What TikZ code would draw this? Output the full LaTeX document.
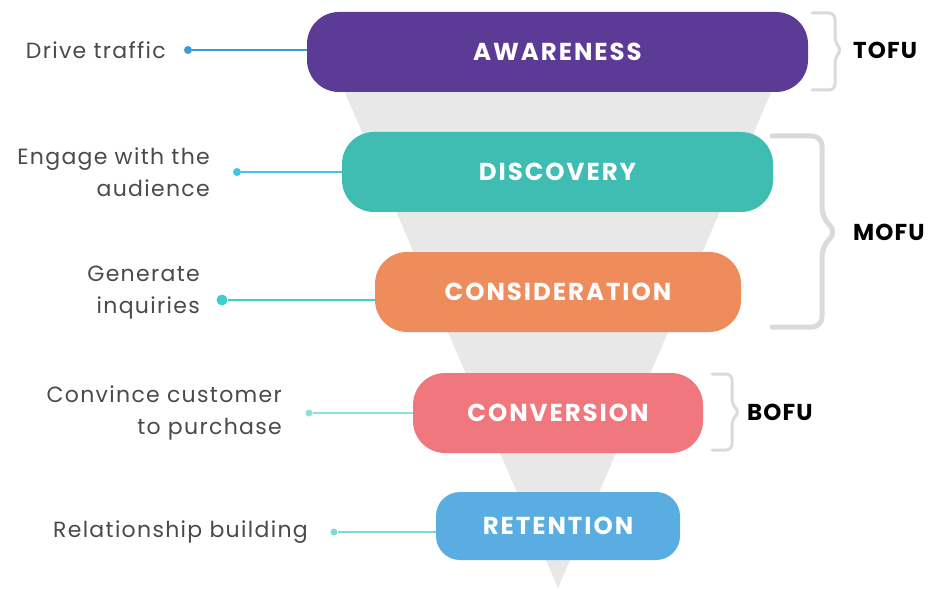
\documentclass[tikz,border=0pt]{standalone}
\usepackage{fontspec}
\setmainfont{Poppins}
\newfontfamily\pillfont{Poppins}[LetterSpace=8]
\newfontfamily\labfont{Poppins}[LetterSpace=6]
\newfontfamily\fufont{Poppins}[LetterSpace=5]
\definecolor{cAw}{HTML}{5B3B95}
\definecolor{cDi}{HTML}{3FBDB2}
\definecolor{cCo}{HTML}{EE8C5B}
\definecolor{cCv}{HTML}{F0777D}
\definecolor{cRe}{HTML}{5AADE0}
\definecolor{funnel}{HTML}{E8E8E8}
\definecolor{bracec}{HTML}{DADADA}
\definecolor{labc}{HTML}{4A4A4A}
\definecolor{lAw}{HTML}{3B9AD9}
\definecolor{lDi}{HTML}{45C3E5}
\definecolor{lCo}{HTML}{3CCFCB}
\definecolor{lCv}{HTML}{8FDFDC}
\definecolor{lRe}{HTML}{7DD8D6}
\begin{document}
\begin{tikzpicture}[x=1pt,y=-1pt,
  pill/.style={rectangle, rounded corners=32pt, text=white, inner sep=0pt,
    font=\pillfont\bfseries\fontsize{24.5}{28}\selectfont},
  lab/.style={anchor=east, align=right, text=labc, inner sep=0pt,
    font=\labfont\fontsize{22}{32}\selectfont},
  fu/.style={anchor=west, inner sep=0pt, text=black,
    font=\fufont\bfseries\fontsize{23}{26}\selectfont},
  dotn/.style={circle, inner sep=0pt},
  brace/.style={draw=bracec, rounded corners=6pt, line cap=round, line join=round}]
\useasboundingbox (0,0) rectangle (930,591);
% funnel
\fill[funnel] (331,60) -- (785,60) -- (558,588) -- cycle;
% pills
\node[pill, fill=cAw, minimum width=501pt, minimum height=80pt] (aw) at (557.5,52) {AWARENESS};
\node[pill, fill=cDi, minimum width=431pt, minimum height=80pt] (di) at (557.5,172) {DISCOVERY};
\node[pill, fill=cCo, minimum width=366pt, minimum height=80pt] (co) at (558,292) {CONSIDERATION};
\node[pill, fill=cCv, minimum width=290pt, minimum height=80pt] (cv) at (558,413) {CONVERSION};
\node[pill, fill=cRe, rounded corners=24pt, minimum width=244pt, minimum height=68pt] (re) at (558,526) {RETENTION};
% left labels
\node[lab] (tAw) at (166,50) {Drive traffic};
\node[lab] (tDi) at (210,172) {Engage with the\\audience};
\node[lab] (tCo) at (200,293) {Generate\\inquiries};
\node[lab] (tCv) at (282,413) {Convince customer\\to purchase};
\node[lab] (tRe) at (308,532) {Relationship building};
% dots and connectors
\node[dotn, fill=lAw, minimum size=8pt] (dAw) at (188,50) {};
\node[dotn, fill=lDi, minimum size=8pt] (dDi) at (237,172) {};
\node[dotn, fill=lCo, minimum size=11pt] (dCo) at (222,300) {};
\node[dotn, fill=lCv, minimum size=7pt] (dCv) at (309,413) {};
\node[dotn, fill=lRe, minimum size=7pt] (dRe) at (334,532) {};
\draw[lAw, line width=2pt] (dAw) -- (dAw -| aw.west);
\draw[lDi, line width=1.6pt] (dDi) -- (dDi -| di.west);
\draw[lCo, line width=1.8pt] (dCo) -- (dCo -| co.west);
\draw[lCv, line width=1.6pt] (dCv) -- (dCv -| cv.west);
\draw[lRe, line width=1.6pt] (dRe) -- (dRe -| re.west);
% braces
\draw[brace, line width=3pt] (812,13) -- (835,13) -- (835,43) -- (842,50) -- (835,57) -- (835,90) -- (812,90);
\draw[brace, line width=5pt, rounded corners=10pt] (772,136) -- (822,136) -- (822,218) -- (837,232) -- (822,246) -- (822,327) -- (772,327);
\draw[brace, line width=3pt] (712,374) -- (732,374) -- (732,405) -- (740,412) -- (732,419) -- (732,450) -- (712,450);
% phase labels
\node[fu] (tofu) at (853,50) {TOFU};
\node[fu] (mofu) at (853,232) {MOFU};
\node[fu] (bofu) at (747,412) {BOFU};
\end{tikzpicture}
\end{document}
